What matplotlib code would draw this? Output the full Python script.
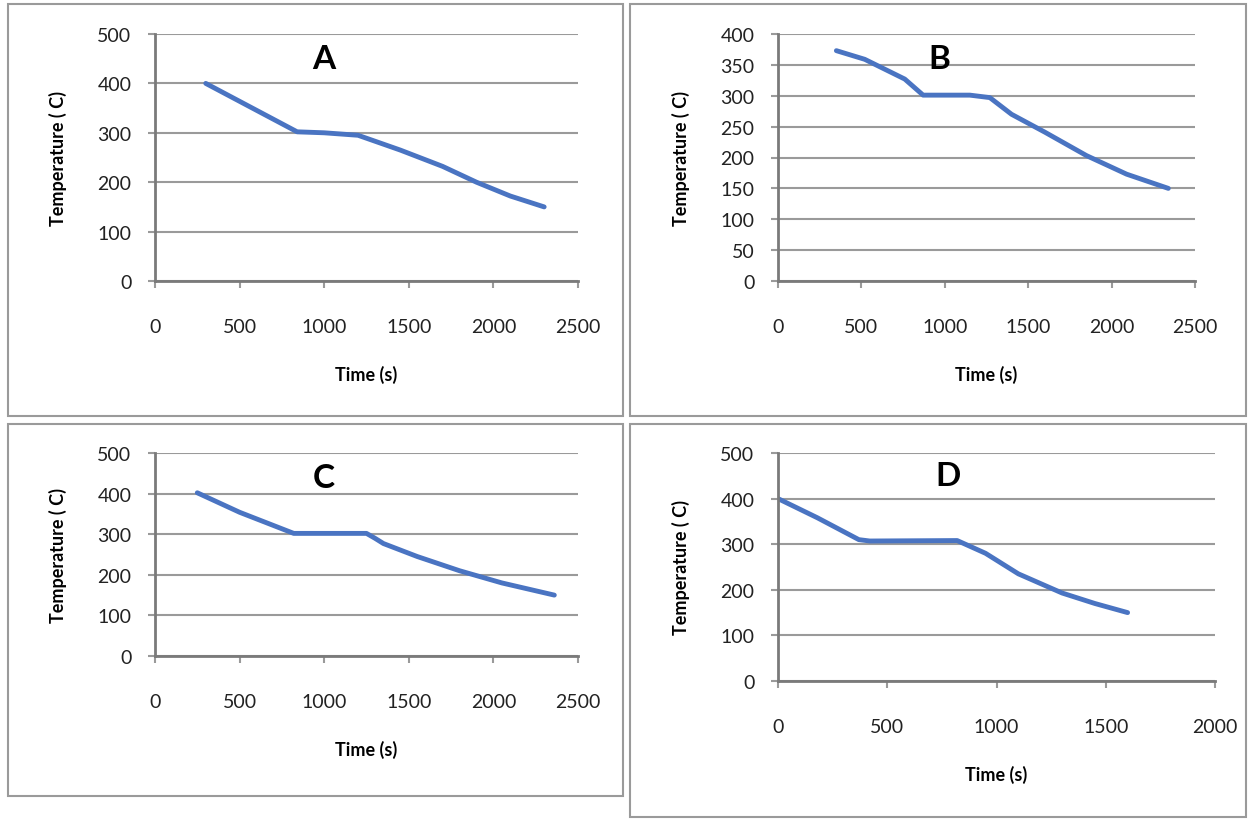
import matplotlib.pyplot as plt
from matplotlib.patches import Rectangle

# data
a_time = [300, 840, 1000, 1200, 1450, 1700, 1900, 2100, 2300]
a_temp = [400, 302, 300, 295, 265, 232, 200, 172, 150]

b_time = [350, 520, 760, 870, 1150, 1270, 1400, 1600, 1850, 2090, 2340]
b_temp = [373, 359, 327, 301, 301, 297, 270, 241, 203, 173, 150]

c_time = [250, 500, 820, 1250, 1300, 1350, 1550, 1800, 2050, 2360]
c_temp = [402, 354, 302, 302, 290, 277, 245, 210, 180, 150]

d_time = [0, 180, 370, 420, 820, 950, 1100, 1300, 1450, 1600]
d_temp = [400, 358, 310, 307, 308, 280, 235, 193, 170, 150]

panel_names = ['A', 'B', 'C', 'D']
x_maxes = [2500, 2500, 2500, 2000]
y_maxes = [500, 400, 500, 500]
y_steps = [100, 50, 100, 100]

W, H = 1249, 820
plt.rcParams['font.family'] = ['Lato', 'DejaVu Sans']
fig = plt.figure(figsize=(W / 100, H / 100), dpi=100)
fig.patch.set_facecolor('white')


def px_rect(left, top, right, bottom):
    return [left / W, 1 - bottom / H, (right - left) / W, (bottom - top) / H]


# outer boxes around each chart
for (l, t, r, b) in [(8, 5, 623, 417), (630, 5, 1246, 417),
                     (8, 425, 623, 797), (630, 425, 1246, 818)]:
    fig.add_artist(Rectangle((l / W, 1 - b / H), (r - l) / W, (b - t) / H,
                             transform=fig.transFigure, fill=False,
                             edgecolor='#9a9a9a', lw=1.5))

axes_px = [(155, 35, 578, 282), (778, 35, 1195, 282),
           (155, 454, 578, 657), (778, 454, 1215, 682)]
times = [a_time, b_time, c_time, d_time]
temps = [a_temp, b_temp, c_temp, d_temp]
label_pos = [(1000, 0.9), (970, 0.9), (1000, 0.88), (780, 0.9)]

for i in range(4):
    ax = fig.add_axes(px_rect(*axes_px[i]))
    ax.plot(times[i], temps[i], color='#4a74c2', lw=3.5, solid_capstyle='round')
    ax.set_xlim(0, x_maxes[i])
    ax.set_ylim(0, y_maxes[i])
    ax.set_xticks(range(0, x_maxes[i] + 1, 500))
    ax.set_yticks(range(0, y_maxes[i] + 1, y_steps[i]))
    ax.grid(axis='y', color='#9a9a9a', lw=1.5)
    ax.set_axisbelow(True)
    for s in ['top', 'right']:
        ax.spines[s].set_visible(False)
    for s in ['left', 'bottom']:
        ax.spines[s].set_color('#7a7a7a')
        ax.spines[s].set_linewidth(2)
    ax.tick_params(axis='x', length=5, width=1.5, color='#9a9a9a', pad=22,
                   labelsize=14, labelcolor='#222222')
    ax.tick_params(axis='y', length=5, width=1.5, color='#9a9a9a', pad=12,
                   labelsize=14, labelcolor='#222222')
    ax.set_xlabel('Time (s)', fontsize=13, fontweight='bold', labelpad=21)
    ax.set_ylabel('Temperature ( C)', fontsize=13, fontweight='bold', labelpad=22)
    lx, ly = label_pos[i]
    ax.text(lx, y_maxes[i] * ly, panel_names[i], fontsize=24,
            fontweight='bold', ha='center', va='center')

fig.savefig('out.png', dpi=100)
